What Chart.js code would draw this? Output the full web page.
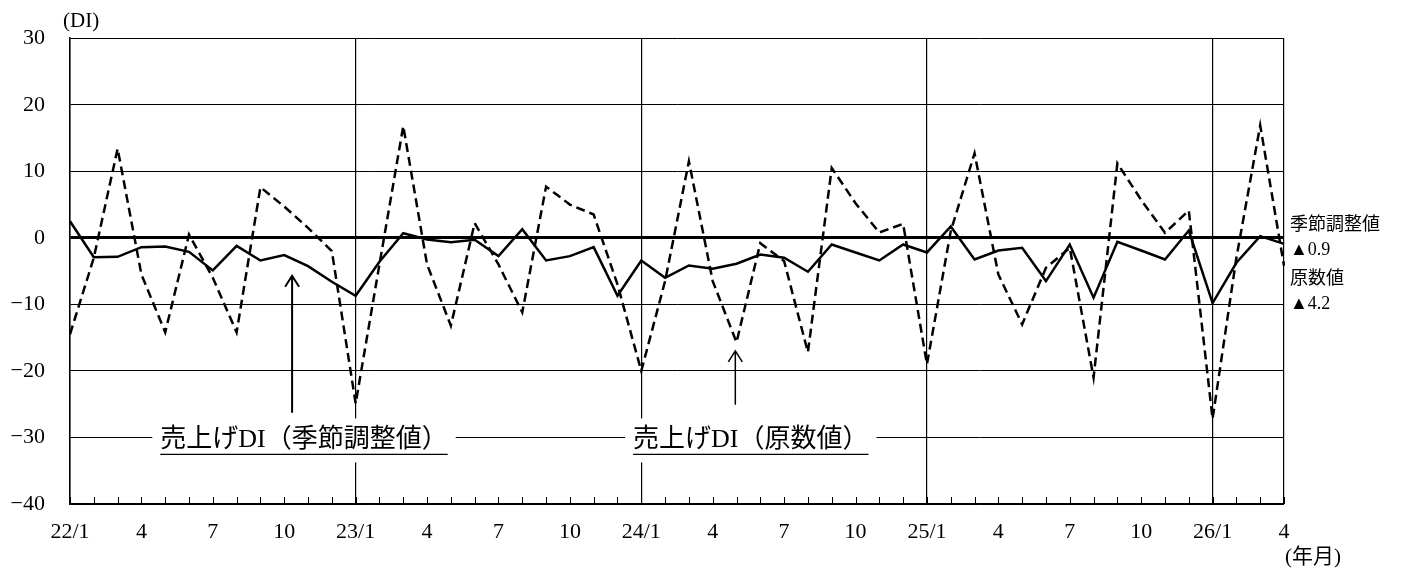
<!DOCTYPE html>
<html>
<head>
<meta charset="utf-8">
<script src="https://cdn.jsdelivr.net/npm/chart.js@4.4.1/dist/chart.umd.min.js"></script>
<style>
html, body { margin: 0; padding: 0; background: #fff; }
#wrap { width: 1403px; height: 574px; }
</style>
</head>
<body>
<div id="wrap"><canvas id="diChart"></canvas></div>
<script>
var months = [
  '22/1','2','3','4','5','6','7','8','9','10','11','12',
  '23/1','2','3','4','5','6','7','8','9','10','11','12',
  '24/1','2','3','4','5','6','7','8','9','10','11','12',
  '25/1','2','3','4','5','6','7','8','9','10','11','12',
  '26/1','2','3','4'
];

// 売上げDI（季節調整値）
var seasonal = [
  2.5, -2.9, -2.85, -1.4, -1.3, -2.1, -4.9, -1.2, -3.4, -2.6, -4.25, -6.6,
  -8.7, -3.6, 0.7, -0.25, -0.65, -0.3, -2.75, 1.3, -3.4, -2.75, -1.4, -8.7,
  -3.4, -6.0, -4.15, -4.65, -3.9, -2.5, -3.0, -5.1, -1.0, -2.2, -3.4, -1.0,
  -2.2, 1.7, -3.25, -1.9, -1.5, -6.5, -1.0, -9.0, -0.6, -1.9, -3.25, 1.1,
  -9.8, -3.75, 0.25, -0.9
];

// 売上げDI（原数値）
var raw = [
  -14.5, -3.0, 13.4, -5.5, -14.2, 0.5, -6.0, -14.2, 7.6, 4.7, 1.5, -2.0,
  -24.9, -4.0, 16.8, -4.0, -13.2, 2.2, -4.0, -11.2, 7.7, 5.0, 3.5, -7.0,
  -20.0, -6.5, 11.5, -6.5, -15.7, -0.8, -3.5, -17.2, 10.5, 5.2, 0.8, 2.1,
  -19.0, 1.0, 12.7, -5.5, -13.0, -4.5, -1.5, -21.0, 11.2, 5.7, 0.75, 4.1,
  -27.2, -3.0, 16.9, -4.2
];

var yMin = -40, yMax = 30, yStep = 10;

var seriesNotes = ['季節調整値', '▲0.9', '原数値', '▲4.2'];

var serif = '"Liberation Serif", "Noto Sans CJK JP", serif';

// boxed captions on the -30 line, and arrows pointing at the lines
var captions = [
  { text: '売上げDI（季節調整値）', at: 9.83, value: -30 },
  { text: '売上げDI（原数値）', at: 28.6, value: -30 }
];
var arrows = [
  { at: 9.33, from: -26.3, to: -5.7, width: 2 },
  { at: 27.95, from: -25.1, to: -17.0, width: 1.5 }
];

var decorations = {
  id: 'decorations',
  afterDraw: function (chart) {
    var ctx = chart.ctx, xs = chart.scales.x, ys = chart.scales.y, area = chart.chartArea;
    ctx.save();

    // small month ticks pointing into the plot
    ctx.strokeStyle = '#000';
    ctx.lineWidth = 1;
    for (var i = 0; i < months.length; i++) {
      var px = Math.round(xs.getPixelForValue(i)) + 0.5;
      ctx.beginPath();
      ctx.moveTo(px, area.bottom);
      ctx.lineTo(px, area.bottom - 7);
      ctx.stroke();
    }

    // arrows
    arrows.forEach(function (a) {
      var x = xs.getPixelForValue(a.at);
      var y0 = ys.getPixelForValue(a.from), y1 = ys.getPixelForValue(a.to);
      ctx.lineWidth = a.width;
      ctx.beginPath();
      ctx.moveTo(x, y0);
      ctx.lineTo(x, y1);
      ctx.moveTo(x - 7, y1 + 11);
      ctx.lineTo(x, y1);
      ctx.lineTo(x + 7, y1 + 11);
      ctx.stroke();
    });

    // captions with white box and underline
    ctx.font = '26px ' + serif;
    ctx.textBaseline = 'middle';
    ctx.textAlign = 'center';
    captions.forEach(function (c) {
      var cx = xs.getPixelForValue(c.at), cy = ys.getPixelForValue(c.value);
      var w = ctx.measureText(c.text).width;
      ctx.fillStyle = '#fff';
      ctx.fillRect(cx - w / 2 - 8, cy - 19, w + 16, 44);
      ctx.fillStyle = '#000';
      ctx.fillText(c.text, cx, cy + 3);
      ctx.lineWidth = 1.2;
      ctx.beginPath();
      ctx.moveTo(cx - w / 2, cy + 17);
      ctx.lineTo(cx + w / 2, cy + 17);
      ctx.stroke();
    });

    // notes at the right end
    ctx.textAlign = 'left';
    ctx.font = '18px ' + serif;
    var noteY = [225, 250, 279, 304];
    seriesNotes.forEach(function (t, k) {
      ctx.fillText(t, area.right + 6, noteY[k]);
    });

    // unit labels
    ctx.font = '21px ' + serif;
    ctx.fillText('(DI)', 63, 21);
    ctx.fillText('(年月)', area.right + 1, 557);

    ctx.restore();
  }
};

var diChart = new Chart(document.getElementById('diChart').getContext('2d'), {
  type: 'line',
  data: {
    labels: months,
    datasets: [{
      label: '売上げDI（季節調整値）',
      data: seasonal,
      borderColor: '#000',
      borderWidth: 2.5,
      pointRadius: 0,
      tension: 0,
      fill: false
    }, {
      label: '売上げDI（原数値）',
      data: raw,
      borderColor: '#000',
      borderWidth: 2.5,
      borderDash: [9, 5],
      pointRadius: 0,
      tension: 0,
      fill: false
    }]
  },
  options: {
    responsive: true,
    maintainAspectRatio: false,
    animation: false,
    layout: { padding: { top: 36, right: 119, left: 0, bottom: 0 } },
    plugins: {
      legend: { display: false },
      tooltip: { enabled: false }
    },
    scales: {
      x: {
        type: 'category',
        offset: false,
        afterFit: function (s) { s.height = 70; },
        grid: {
          drawTicks: false,
          color: function (c) {
            return (c.index % 12 === 0 || c.index === months.length - 1) ? '#000' : 'rgba(0,0,0,0)';
          },
          lineWidth: 1.2
        },
        border: { color: '#000', width: 1.5 },
        ticks: {
          autoSkip: false,
          maxRotation: 0,
          padding: 15,
          color: '#000',
          font: { family: serif, size: 22 },
          callback: function (v, i) { return i % 3 === 0 ? this.getLabelForValue(v) : ''; }
        }
      },
      y: {
        min: yMin,
        max: yMax,
        afterFit: function (s) { s.width = 70; },
        grid: {
          drawTicks: false,
          color: '#000',
          lineWidth: function (c) { return c.tick && c.tick.value === 0 ? 3 : 1; }
        },
        border: { color: '#000', width: 1.5 },
        ticks: {
          stepSize: yStep,
          padding: 25,
          color: '#000',
          font: { family: serif, size: 22 },
          callback: function (v) { return v < 0 ? '\u2212' + Math.abs(v) : '' + v; }
        }
      }
    }
  },
  plugins: [decorations]
});
</script>
</body>
</html>
